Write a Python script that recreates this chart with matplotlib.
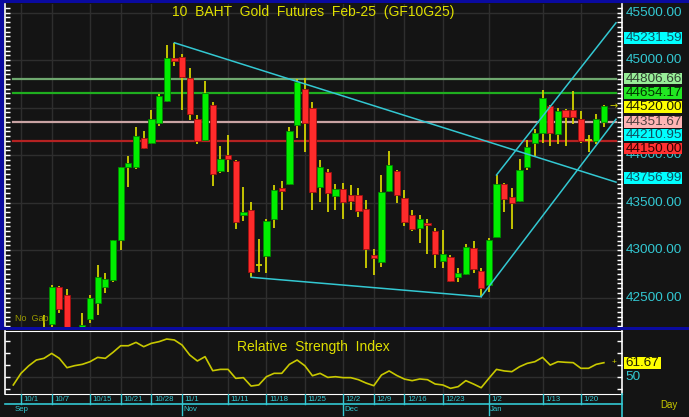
import matplotlib

matplotlib.use("Agg")
import matplotlib.pyplot as plt
from matplotlib.patches import Rectangle
import numpy as np

# trading days shown on the chart (Thai futures calendar)
DATES = [
    "9/30", "10/1", "10/2", "10/3", "10/4", "10/7", "10/8", "10/9", "10/10", "10/11",
    "10/15", "10/16", "10/17", "10/18", "10/21", "10/22", "10/24", "10/25", "10/28", "10/29",
    "10/30", "10/31", "11/1", "11/4", "11/5", "11/6", "11/7", "11/8", "11/11", "11/12",
    "11/13", "11/14", "11/15", "11/18", "11/19", "11/20", "11/21", "11/22", "11/25", "11/26",
    "11/27", "11/28", "11/29", "12/2", "12/3", "12/4", "12/6", "12/9", "12/11", "12/12",
    "12/13", "12/16", "12/17", "12/18", "12/19", "12/20", "12/23", "12/24", "12/25", "12/26",
    "12/27", "12/30", "1/2", "1/3", "1/6", "1/7", "1/8", "1/9", "1/10", "1/13",
    "1/14", "1/15", "1/16", "1/17", "1/20", "1/21", "1/22", "1/23",
]
OPEN = [
    41900, 41800, 41900, 42050, 42100, 42223, 42616, 42532, 42130, 42080,
    42276, 42447, 42616, 42686, 43107, 43873, 43873, 44184, 44132, 44336,
    44567, 45020, 45037, 44809, 44378, 44160, 44528, 43834, 44002, 43942,
    43374, 43423, 42844, 42942, 43325, 43658, 43694, 44318, 44697, 44497,
    43668, 43826, 43574, 43641, 43581, 43581, 43431, 42946, 42879, 43620,
    43834, 43550, 43367, 43231, 43286, 43202, 42890, 42925, 42721, 42746,
    43026, 42784, 42633, 43142, 43694, 43557, 43518, 43872, 44125, 44231,
    44521, 44220, 44476, 44476, 44378, 44160, 44153, 44353,
]
HIGH = [
    42000, 41950, 42080, 42150, 42318, 42635, 42620, 42595, 42180, 42342,
    42525, 42844, 42757, 43110, 43880, 43992, 44300, 44255, 44476, 44644,
    45160, 45184, 45062, 44915, 44423, 44781, 44563, 44097, 44213, 43950,
    43669, 43511, 43121, 43325, 43686, 43728, 44300, 44799, 44809, 44557,
    43950, 43852, 43694, 43711, 43686, 43652, 43529, 43010, 43792, 44044,
    43844, 43634, 43423, 43370, 43325, 43230, 43213, 42950, 42816, 43062,
    43097, 42810, 43126, 43792, 43704, 43652, 43957, 44160, 44273, 44686,
    44528, 44500, 44483, 44676, 44465, 44213, 44431, 44530,
]
LOW = [
    41750, 41700, 41850, 41980, 42060, 42190, 42336, 42100, 41980, 42030,
    42231, 42321, 42546, 42665, 43002, 43669, 43852, 44070, 44120, 44307,
    44560, 44939, 44476, 44371, 44118, 44155, 43676, 43816, 43826, 43220,
    43307, 42715, 42767, 42757, 43231, 43423, 43690, 44178, 44037, 43423,
    43511, 43399, 43423, 43325, 43423, 43346, 42816, 42737, 42827, 43610,
    43494, 43258, 43205, 43081, 42957, 42816, 42810, 42668, 42668, 42740,
    42757, 42511, 42563, 43140, 43405, 43220, 43510, 43844, 43992, 44125,
    44097, 44115, 44097, 44325, 44125, 44031, 44115, 44300,
]
CLOSE = [
    41800, 41900, 42050, 42100, 42180, 42616, 42378, 42150, 42060, 42210,
    42494, 42715, 42694, 43107, 43873, 43915, 44202, 44076, 44378, 44623,
    45020, 44992, 44820, 44431, 44153, 44652, 43805, 43963, 43957, 43300,
    43402, 42767, 42844, 43311, 43634, 43626, 44255, 44767, 44342, 43616,
    43879, 43605, 43647, 43511, 43518, 43413, 43010, 42921, 43610, 43900,
    43582, 43300, 43223, 43328, 43262, 42960, 42957, 42676, 42763, 43034,
    42799, 42605, 43107, 43694, 43539, 43494, 43844, 44083, 44231, 44599,
    44231, 44465, 44405, 44405, 44153, 44160, 44381, 44520,
]
RSI = [
    43.1, 52.8, 59.0, 63.9, 65.3, 69.4, 65.3, 57.5, 59.2, 60.3,
    62.5, 66.1, 65.3, 70.3, 75.8, 75.8, 78.6, 75.0, 77.8, 79.2,
    81.4, 80.6, 76.4, 68.1, 63.1, 66.7, 55.0, 56.1, 56.1, 48.6,
    49.2, 42.2, 43.1, 50.0, 52.8, 52.8, 60.3, 63.9, 59.2, 50.8,
    52.8, 49.4, 50.0, 49.2, 49.2, 47.5, 44.7, 42.5, 51.4, 54.8,
    51.0, 48.0, 46.7, 48.1, 47.5, 43.9, 43.1, 40.3, 41.7, 46.7,
    43.9, 40.8, 48.6, 56.1, 54.8, 54.2, 58.3, 61.1, 62.5, 66.1,
    59.7, 62.5, 62.0, 61.7, 57.0, 57.0, 60.3, 61.67,
]

TICK_DATES = ["10/1", "10/7", "10/15", "10/21", "10/28", "11/1", "11/11", "11/18",
              "11/25", "12/2", "12/9", "12/16", "12/23", "1/2", "1/13", "1/20"]
MONTH_LABELS = ["Sep", "Nov", "Dec", "Jan"]
MONTH_DATES = ["9/30", "11/1", "12/2", "1/2"]

LEVELS = [44806.66, 44654.17, 44351.67, 44150.00]
LEVEL_COLORS = ["#6fa86f", "#1fae1f", "#c9a3a3", "#b52222"]
LEVEL_BOX = ["#98ee98", "#22e622", "#ffb4b4", "#ff3030"]

# trendlines as (date, price) pairs
DOWN_TREND = [("10/31", 45184.0), ("1/23", 43756.99)]
SUPPORT = [("11/14", 42715.0), ("12/30", 42511.0)]
CHANNEL_LOW = [("12/30", 42511.0), ("1/23", 44210.95)]
CHANNEL_HIGH = [("1/3", 43792.0), ("1/23", 45231.59)]

PRICE_TICKS = [45500, 45000, 44500, 44000, 43500, 43000, 42500]
LAST_PRICE = 44520.00
LAST_RSI = 61.67

W, H = 689, 417
BG = "#141414"
GRID = "#2e2e2e"
CYAN = "#33c8d2"
WICK = "#d2d200"
GREEN = "#00ee00"
RED = "#ff2b2b"
BLUE = "#0a0aa0"


def px_rect(x0, y0, x1, y1):
    return [x0 / W, 1 - y1 / H, (x1 - x0) / W, (y1 - y0) / H]


plt.rcParams["font.family"] = ["Liberation Sans", "DejaVu Sans"]

fig = plt.figure(figsize=(W / 100, H / 100), dpi=100, facecolor=BG)

# x: pixel = 13.3 + 7.67 * index
XLIM = ((5 - 13.3) / 7.67, (622 - 13.3) / 7.67)
LINE_END = (616 - 13.3) / 7.67
PRICE_LIM = (42197, 45592)
RSI_LIM = (35.33, 88.08)

ax = fig.add_axes(px_rect(5, 4, 622, 326.5))
rax = fig.add_axes(px_rect(5, 331, 622, 394.3))
dax = fig.add_axes(px_rect(5, 394.3, 622, 417))
lab = fig.add_axes(px_rect(622, 4, 689, 326.5))
rlab = fig.add_axes(px_rect(622, 331, 689, 394.3))

x = np.arange(len(DATES))
o, h, l, c = (np.array(v, dtype=float) for v in (OPEN, HIGH, LOW, CLOSE))
tick_idx = [DATES.index(d) for d in TICK_DATES]

for a in (ax, rax):
    a.set_facecolor(BG)
    a.set_xlim(*XLIM)
    for s in ("top", "bottom"):
        a.spines[s].set_visible(False)
    for s in ("left", "right"):
        a.spines[s].set_color("white")
        a.spines[s].set_linewidth(1.2)
    a.tick_params(axis="x", bottom=False, labelbottom=False)
    a.tick_params(axis="y", left=True, right=True, direction="in", colors="white",
                  labelleft=False, labelright=False, length=3.5, width=1)
    for i in tick_idx:
        a.axvline(i, color=GRID, lw=1, zorder=0)

# ---- price panel
ax.set_ylim(*PRICE_LIM)
ax.set_yticks(np.arange(42200, 45600, 50))
for p in PRICE_TICKS:
    ax.axhline(p, color=GRID, lw=1, zorder=0)

for lv, col in zip(LEVELS, LEVEL_COLORS):
    ax.plot([0, LINE_END], [lv, lv], color=col, lw=1.6, zorder=2)

ax.vlines(x, l, h, color=WICK, lw=1.3, zorder=3)
up, dn, doji = c > o, c < o, c == o
ax.bar(x[up], (c - o)[up], bottom=o[up], width=0.82, color=GREEN,
       edgecolor="#008a00", lw=0.6, zorder=4)
ax.bar(x[dn], (o - c)[dn], bottom=c[dn], width=0.82, color=RED,
       edgecolor="#a01010", lw=0.6, zorder=4)
ax.hlines(c[doji], x[doji] - 0.42, x[doji] + 0.42, color=WICK, lw=1.3, zorder=4)


def trend(a, pts, extend=False):
    (d0, p0), (d1, p1) = pts
    i0, i1 = DATES.index(d0), DATES.index(d1)
    xe = LINE_END if extend else i1
    slope = (p1 - p0) / (i1 - i0)
    a.plot([i0, xe], [p0, p0 + slope * (xe - i0)], color=CYAN, lw=1.1, zorder=5)


trend(ax, DOWN_TREND, extend=True)
trend(ax, SUPPORT)
trend(ax, CHANNEL_LOW, extend=True)
trend(ax, CHANNEL_HIGH, extend=True)

ax.text(0.5, 0.976, "10  BAHT  Gold  Futures  Feb-25  (GF10G25)", transform=ax.transAxes,
        ha="center", va="center", color="#e0e000", fontsize=10)
ax.text(0.2, PRICE_LIM[0] + 40, "No  Gaps", color="#9a9a00", fontsize=6.5, va="bottom")
ax.text(LINE_END - 0.3, LAST_PRICE, "\u2192", color=WICK, fontsize=7, ha="center",
        va="center", family="DejaVu Sans", clip_on=False, zorder=6)

# ---- price label column
lab.set_xlim(0, 67)
lab.set_ylim(*PRICE_LIM)
lab.axis("off")
upp = (PRICE_LIM[1] - PRICE_LIM[0]) / 322.5
box_h = 11.7 * upp
# the 44000 label sits partly under the 44150 box, as in the original
for p in PRICE_TICKS:
    lab.text(3.5, p, f"{p:.2f}", color=CYAN, fontsize=9.7, va="center", ha="left")

boxes = [
    (CHANNEL_HIGH[1][1], "#00ffff", "#105060", 0),
    (LEVELS[0], LEVEL_BOX[0], "#304030", 0),
    (LEVELS[1], LEVEL_BOX[1], "#003000", 0),
    (LAST_PRICE, "#ffff00", "#202000", -1.0),
    (LEVELS[2], LEVEL_BOX[2], "#504040", 0),
    (CHANNEL_LOW[1][1], "#00ffff", "#105060", 0),
    (LEVELS[3], LEVEL_BOX[3], "#300000", -7.6),
    (DOWN_TREND[1][1], "#00ffff", "#105060", 0),
]
for val, bg, fg, nudge in boxes:
    yc = val + nudge * upp
    lab.add_patch(Rectangle((2, yc - box_h / 2), 58, box_h, facecolor=bg,
                            edgecolor="none", zorder=3))
    lab.text(3.5, yc, f"{val:.2f}", color=fg, fontsize=9.7, va="center", ha="left", zorder=4)

# ---- RSI panel
rax.set_ylim(*RSI_LIM)
rax.set_yticks([40, 50, 60, 70, 80])
rax.spines["top"].set_visible(True)
rax.spines["top"].set_color("white")
rax.spines["bottom"].set_visible(True)
rax.spines["bottom"].set_color("white")
rax.axhline(50, color=GRID, lw=1, zorder=0)
rax.plot(x, RSI, color="#c8c800", lw=1.2, zorder=3)
rax.text(0.5, 0.74, "Relative  Strength  Index", transform=rax.transAxes,
         ha="center", va="center", color="#e0e000", fontsize=10)
rax.text(LINE_END - 0.3, LAST_RSI, "+", color=WICK, fontsize=6, ha="center",
         va="center", clip_on=False)

rlab.set_xlim(0, 67)
rlab.set_ylim(*RSI_LIM)
rlab.axis("off")
rupp = (RSI_LIM[1] - RSI_LIM[0]) / 63.3
rlab.add_patch(Rectangle((2, LAST_RSI - 11.7 * rupp / 2), 36.7, 11.7 * rupp,
                         facecolor="#ffff00", edgecolor="none"))
rlab.text(3.5, LAST_RSI, f"{LAST_RSI:.2f}", color="#202000", fontsize=9.7, va="center")
rlab.text(3.5, 50, "50", color=CYAN, fontsize=9.7, va="center")

# ---- date axis
dax.set_facecolor(BG)
dax.set_xlim(*XLIM)
dax.set_ylim(22.7, 0)
dax.axis("off")
dax.plot(XLIM, [9.7, 9.7], color=CYAN, lw=1.2, clip_on=False)
for d, i in zip(TICK_DATES, tick_idx):
    dax.plot([i, i], [0, 9.7], color=CYAN, lw=1)
    dax.text(i + 0.35, 5.6, d, color=CYAN, fontsize=5.6, va="center", ha="left")
for m, d in zip(MONTH_LABELS, MONTH_DATES):
    i = DATES.index(d)
    if m != "Sep":
        dax.plot([i, i], [9.7, 21], color=CYAN, lw=1)
    dax.text(i + 0.15, 15.3, m, color=CYAN, fontsize=5.6, va="center", ha="left")
dax.plot([XLIM[1], XLIM[1]], [0, 22.7], color=CYAN, lw=1.2, clip_on=False)
fig.text(660 / W, 1 - 405 / H, "Day", color="#c8c800", fontsize=7, va="center")

# ---- blue frame
for x0, y0, x1, y1 in [(0, 0, W, 3), (0, 326.5, W, 330), (0, 0, 3.5, 330)]:
    fig.add_artist(Rectangle((x0 / W, 1 - y1 / H), (x1 - x0) / W, (y1 - y0) / H,
                             transform=fig.transFigure, facecolor=BLUE, edgecolor="none"))

fig.savefig("out.png", dpi=100, facecolor=BG)
